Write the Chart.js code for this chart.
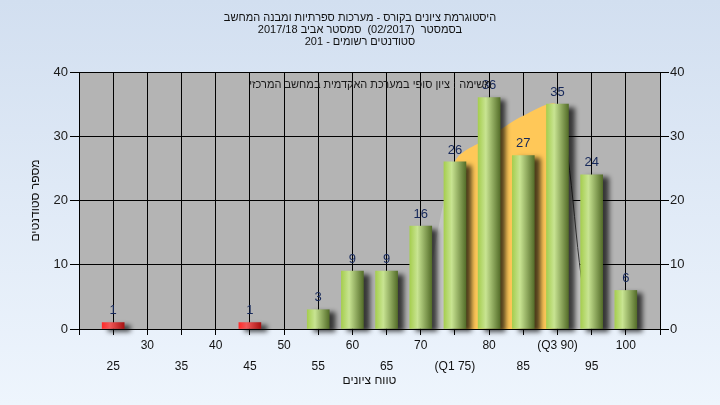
<!DOCTYPE html>
<html>
<head>
<meta charset="utf-8">
<script src="https://cdn.jsdelivr.net/npm/chart.js@4.4.0/dist/chart.umd.min.js"></script>
<style>
  html, body { margin: 0; padding: 0; }
  body { width: 720px; height: 405px; overflow: hidden; background: linear-gradient(#d2dff0, #eef5fd); }
</style>
</head>
<body>
<canvas id="histChart" width="720" height="405"></canvas>
<script>
// grade ranges and counts
const categories = [25, 30, 35, 40, 45, 50, 55, 60, 65, 70, 75, 80, 85, 90, 95, 100];
const tickLabels = ['25', '30', '35', '40', '45', '50', '55', '60', '65', '70', '(Q1 75)', '80', '85', '(Q3 90)', '95', '100'];
const studentCounts = [1, 0, 0, 0, 1, 0, 3, 9, 9, 16, 26, 36, 27, 35, 24, 6];
const curveValues = [null, null, null, null, null, null, null, null, null, 0, 26, 29.8, 33.2, 34.7, 0, 0];
const q1 = 75, q3 = 90, passGrade = 55;
const titleLines = [
  'היסטוגרמת ציונים בקורס - מערכות ספרתיות ומבנה המחשב',
  'בסמסטר  (02/2017)  סמסטר אביב 2017/18',
  'סטודנטים רשומים - 201'
];
const taskText = 'משימה : ציון סופי במערכת האקדמית במחשב המרכזי';

const FONT = "'Liberation Sans', Arial, sans-serif";
Chart.defaults.font.family = FONT;

// empty slot on each side, so 25 and 100 sit one step in from the edges
const labels = ['', ...tickLabels, ''];
const barData = [null, ...studentCounts, null];
const lineData = [null, ...curveValues, null];
const idxQ1 = categories.indexOf(q1) + 1;
const idxQ3 = categories.indexOf(q3) + 1;

function barFill(c) {
  const chart = c.chart;
  const v = categories[c.dataIndex - 1];
  if (!barData[c.dataIndex]) return 'rgba(0,0,0,0)';
  const red = v < passGrade;
  if (!chart.chartArea) return red ? '#e03030' : '#98c050';
  const x = chart.scales.x.getPixelForValue(c.dataIndex);
  const g = chart.ctx.createLinearGradient(x - 11, 0, x + 11, 0);
  if (red) {
    g.addColorStop(0, '#ff2a2a');
    g.addColorStop(0.35, '#f05858');
    g.addColorStop(1, '#a81212');
  } else {
    g.addColorStop(0, '#a6ce50');
    g.addColorStop(0.35, '#c8e492');
    g.addColorStop(1, '#556e2a');
  }
  return g;
}

const plotBg = {
  id: 'plotBg',
  beforeDraw(chart) {
    const { ctx, chartArea: a } = chart;
    ctx.save();
    ctx.fillStyle = '#b4b4b4';
    ctx.fillRect(a.left, a.top, a.right - a.left, a.bottom - a.top);
    ctx.restore();
  }
};

const barShadow = {
  id: 'barShadow',
  beforeDatasetDraw(chart, args) {
    if (args.meta.type !== 'bar') return;
    const ctx = chart.ctx;
    ctx.save();
    ctx.shadowColor = 'rgba(0,0,0,0.7)';
    ctx.shadowBlur = 5;
    ctx.shadowOffsetX = 6;
    ctx.shadowOffsetY = 3;
  },
  afterDatasetDraw(chart, args) {
    if (args.meta.type !== 'bar') return;
    chart.ctx.restore();
  }
};

const barLabels = {
  id: 'barLabels',
  afterDatasetsDraw(chart) {
    const { ctx, chartArea: a } = chart;
    ctx.save();
    ctx.font = '13px ' + FONT;
    ctx.fillStyle = '#16285a';
    ctx.textAlign = 'center';
    ctx.textBaseline = 'middle';
    const meta = chart.getDatasetMeta(1);
    meta.data.forEach((el, i) => {
      const v = barData[i];
      if (!v) return;
      ctx.fillText(String(v), el.x, el.y - 12);
    });
    ctx.fillStyle = '#1a1a1a';
    ctx.font = '11px ' + FONT;
    ctx.fillText(taskText, (a.left + a.right) / 2 + 1, a.top + 13);
    ctx.restore();
  }
};

new Chart(document.getElementById('histChart'), {
  type: 'bar',
  data: {
    labels: labels,
    datasets: [
      {
        type: 'line',
        data: lineData,
        order: 2,
        fill: 'origin',
        backgroundColor: '#c4c4c4',
        borderColor: 'rgba(0,0,0,0)',
        borderWidth: 1,
        pointRadius: 0,
        tension: 0.3,
        segment: {
          backgroundColor: c => (c.p0DataIndex >= idxQ1 && c.p1DataIndex <= idxQ3) ? '#ffc858' : '#c4c4c4',
          borderColor: c => c.p0DataIndex === idxQ3 ? '#3a3a3a' : 'rgba(0,0,0,0)'
        }
      },
      {
        type: 'bar',
        data: barData,
        order: 1,
        barThickness: 22,
        backgroundColor: barFill,
        borderWidth: 0,
        clip: false
      }
    ]
  },
  options: {
    responsive: false,
    animation: false,
    devicePixelRatio: 1,
    layout: { padding: 0 },
    plugins: {
      legend: { display: false },
      tooltip: { enabled: false },
      title: {
        display: true,
        text: titleLines,
        color: '#111',
        font: { size: 11, weight: 'normal', lineHeight: 12 / 11 },
        padding: { top: 12, bottom: 24 }
      }
    },
    scales: {
      x: {
        type: 'category',
        offset: false,
        grid: { offset: false, color: '#000', lineWidth: 1, tickLength: 6 },
        border: { color: '#000' },
        ticks: {
          autoSkip: false,
          maxRotation: 0,
          padding: 0,
          color: '#111',
          font: { size: 12, lineHeight: 1.75 },
          callback: (value, index) => {
            if (index === 0 || index === labels.length - 1) return '';
            const lab = labels[index];
            return (index - 1) % 2 === 0 ? ['', lab] : lab;
          }
        },
        title: {
          display: true,
          text: 'טווח ציונים',
          color: '#111',
          font: { size: 12 },
          padding: { top: 0, bottom: 17 }
        },
        afterFit: s => { s.height = 76; }
      },
      y: {
        position: 'left',
        min: 0,
        max: 40,
        grid: { color: '#000', lineWidth: 1, tickLength: 9 },
        border: { color: '#000' },
        ticks: { stepSize: 10, padding: 2, color: '#1a1a1a', font: { size: 13 } },
        title: {
          display: true,
          text: 'מספר סטודנטים',
          color: '#111',
          font: { size: 12 },
          padding: { top: 28, bottom: 0 }
        },
        afterFit: s => { s.width = 79; }
      },
      y2: {
        position: 'right',
        min: 0,
        max: 40,
        grid: { drawOnChartArea: false, color: '#000', tickLength: 9 },
        border: { color: '#000' },
        ticks: { stepSize: 10, padding: 1, color: '#1a1a1a', font: { size: 13 } },
        afterFit: s => { s.width = 60; }
      }
    }
  },
  plugins: [plotBg, barShadow, barLabels]
});
</script>
</body>
</html>
